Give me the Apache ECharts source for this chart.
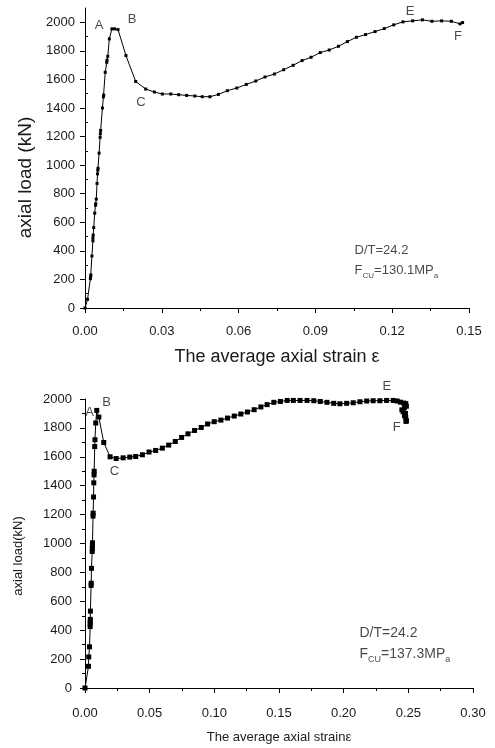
<!DOCTYPE html>
<html>
<head>
<meta charset="utf-8">
<script src="https://cdn.jsdelivr.net/npm/echarts@6/dist/echarts.min.js"></script>
<style>html,body{margin:0;padding:0;background:#fff}#c{width:495px;height:748px}</style>
</head>
<body>
<div id="c"></div>
<script>
// ---------- data: top chart (Fcu = 130.1 MPa) ----------
const strain1 = [0,0.0010,0.0021,0.0022,0.0023,0.0027,0.0031,0.0031,0.0032,0.0034,0.0038,0.0041,0.0042,0.0044,0.0047,0.0049,0.0050,0.0051,0.0055,0.0059,0.0060,0.0061,0.0068,0.0072,0.0073,0.0079,0.0085,0.0086,0.0089,0.0095,0.0105,0.0116,0.0129,0.0160,0.0198,0.0237,0.0271,0.0302,0.0335,0.0366,0.0397,0.0429,0.0458,0.0488,0.0521,0.0556,0.0593,0.0630,0.0667,0.0703,0.0740,0.0776,0.0813,0.0848,0.0883,0.0919,0.0954,0.0990,0.1025,0.1060,0.1096,0.1133,0.1169,0.1206,0.1242,0.1280,0.1318,0.1355,0.1393,0.1431,0.1465,0.1475];
const load1   = [0,61,205,220,232,364,470,490,510,563,664,720,730,762,872,939,965,978,1084,1195,1220,1243,1400,1478,1490,1650,1720,1735,1762,1884,1954,1954,1949,1767,1586,1533,1512,1498,1498,1493,1488,1484,1479,1479,1495,1521,1540,1565,1589,1617,1638,1668,1699,1732,1755,1788,1806,1832,1865,1895,1914,1935,1956,1982,2003,2010,2017,2007,2010,2007,1989,1998];

// ---------- data: bottom chart (Fcu = 137.3 MPa) ----------
const strain2 = [0,0.0027,0.0029,0.0035,0.0040,0.0040,0.0041,0.0041,0.0042,0.0047,0.0048,0.0050,0.0056,0.0057,0.0057,0.0058,0.0062,0.0063,0.0066,0.0068,0.0070,0.0071,0.0075,0.0077,0.0083,0.0091,0.0107,0.0145,0.0194,0.0241,0.0295,0.0346,0.0392,0.0444,0.0495,0.0546,0.0598,0.0647,0.0698,0.0747,0.0796,0.0847,0.0899,0.0948,0.0999,0.1051,0.1102,0.1154,0.1205,0.1256,0.1308,0.1360,0.1408,0.1460,0.1511,0.1563,0.1611,0.1663,0.1717,0.1769,0.1819,0.1871,0.1923,0.1971,0.2023,0.2074,0.2126,0.2178,0.2228,0.2280,0.2332,0.2383,0.2414,0.2440,0.2465,0.2480,0.2485,0.2470,0.2450,0.2460,0.2478,0.2470,0.2480,0.2485,0.2482];
const load2   = [0,150,215,285,425,445,460,475,532,710,725,828,945,965,985,1005,1190,1210,1322,1420,1475,1500,1671,1718,1834,1921,1875,1699,1600,1588,1593,1598,1602,1614,1633,1644,1660,1681,1706,1734,1759,1782,1803,1827,1843,1854,1868,1882,1896,1910,1926,1945,1961,1977,1983,1990,1990,1990,1990,1988,1983,1977,1970,1967,1970,1974,1981,1986,1988,1988,1990,1990,1986,1978,1972,1968,1950,1940,1925,1912,1900,1885,1870,1850,1845];

// ---------- tick values ----------
const xTicks1 = [0, 0.03, 0.06, 0.09, 0.12, 0.15];
const yTicks1 = [0,200,400,600,800,1000,1200,1400,1600,1800,2000];
const yMinor1 = [100,300,500,700,900,1100,1300,1500,1700,1900];
const xTicks2 = [0, 0.05, 0.10, 0.15, 0.20, 0.25, 0.30];
const yTicks2 = [0,200,400,600,800,1000,1200,1400,1600,1800,2000];

// ---------- point labels (data coordinates) ----------
const ptNames1 = ['A','B','C','E','F'];
const ptX1 = [0.0055, 0.0184, 0.0219, 0.1270, 0.1457];
const ptY1 = [1977, 2019, 1437, 2075, 1900];
const ptNames2 = ['A','B','C','E','F'];
const ptX2 = [0.0035, 0.0166, 0.0228, 0.2334, 0.2411];
const ptY2 = [1905, 1974, 1496, 2085, 1801];

// ---------- parameter notes ----------
const note1 = { x: 0.1055, y1: 400, y2: 252, dt: 'D/T=24.2', fcu: '130.1' };
const note2 = { x: 0.2126, y1: 379, y2: 227, dt: 'D/T=24.2', fcu: '137.3' };

const FONT = '"Liberation Sans", Arial, Helvetica, sans-serif';
const TXT = '#1a1a1a';
const zip = (a, b) => a.map((v, i) => [v, b[i]]);

function xAxisDef(grid, max, interval, ticks, name, nameSize, nameGap, labelMargin, fmt) {
  return {
    type: 'value', gridIndex: grid, min: 0, max: max, interval: interval,
    name: name, nameLocation: 'middle', nameGap: nameGap,
    nameTextStyle: { fontFamily: FONT, fontSize: nameSize, color: TXT },
    axisLine: { show: true, onZero: false, lineStyle: { color: '#000', width: 1 } },
    axisTick: { show: true, inside: false, length: 5, lineStyle: { color: '#000' } },
    minorTick: { show: true, splitNumber: 2, length: 3, lineStyle: { color: '#000' } },
    axisLabel: { margin: labelMargin, fontFamily: FONT, fontSize: 13, color: TXT, formatter: fmt, customValues: ticks },
    splitLine: { show: false }, minorSplitLine: { show: false }
  };
}

function noteSeries(xi, yi, nt, fs, ss) {
  return {
    type: 'scatter', xAxisIndex: xi, yAxisIndex: yi, clip: false, silent: true,
    symbolSize: 1, itemStyle: { color: 'rgba(0,0,0,0)' },
    data: [
      { value: [nt.x, nt.y1], label: { formatter: nt.dt } },
      { value: [nt.x, nt.y2], label: { formatter: '{n|F}{s|CU}{n|=' + nt.fcu + 'MP}{s|a}' } }
    ],
    label: {
      show: true, position: [0, 0], align: 'left', verticalAlign: 'middle',
      fontFamily: FONT, fontSize: fs, color: TXT,
      rich: {
        n: { fontFamily: FONT, fontSize: fs, color: TXT, lineHeight: fs + 2, verticalAlign: 'top' },
        s: { fontFamily: FONT, fontSize: ss, color: TXT, lineHeight: fs + 2, verticalAlign: 'top', padding: [8, 0, 0, 0] }
      }
    }
  };
}

const yFmt = v => String(v);

const option = {
  animation: false,
  backgroundColor: '#fff',
  grid: [
    { left: 85, right: 26, top: 8, bottom: 440 },
    { left: 85, right: 22, top: 399, bottom: 60 }
  ],
  xAxis: [
    xAxisDef(0, 0.15, 0.03, xTicks1, 'The average axial strain ε', 18, 40, 17, v => v.toFixed(2)),
    xAxisDef(1, 0.30, 0.05, xTicks2, 'The average axial strainε', 13, 43, 19, v => v.toFixed(2))
  ],
  yAxis: [
    {
      type: 'value', gridIndex: 0, min: 0, max: 2100, interval: 200,
      name: 'axial load (kN)', nameLocation: 'middle', nameGap: 50,
      nameTextStyle: { fontFamily: FONT, fontSize: 19, color: TXT, padding: [0, 39, 0, 0] },
      axisLine: { show: true, onZero: false, lineStyle: { color: '#000', width: 1 } },
      axisTick: { show: true, inside: false, length: 5, customValues: yTicks1, lineStyle: { color: '#000' } },
      axisLabel: { margin: 10, fontFamily: FONT, fontSize: 13, color: TXT, customValues: yTicks1, formatter: yFmt },
      splitLine: { show: false }
    },
    {
      type: 'value', gridIndex: 0, min: 0, max: 2100, interval: 100,
      axisLine: { show: false },
      axisTick: { show: true, inside: false, length: 3, customValues: yMinor1, lineStyle: { color: '#000' } },
      axisLabel: { show: false },
      splitLine: { show: false }
    },
    {
      type: 'value', gridIndex: 1, min: 0, max: 2000, interval: 200,
      name: 'axial load(kN)', nameLocation: 'middle', nameGap: 60,
      nameTextStyle: { fontFamily: FONT, fontSize: 13, color: TXT, padding: [0, 25, 0, 0] },
      axisLine: { show: true, onZero: false, lineStyle: { color: '#000', width: 1 } },
      axisTick: { show: true, inside: false, length: 5, lineStyle: { color: '#000' } },
      minorTick: { show: true, splitNumber: 2, length: 3, lineStyle: { color: '#000' } },
      axisLabel: { margin: 13, fontFamily: FONT, fontSize: 13, color: TXT, customValues: yTicks2, formatter: yFmt },
      splitLine: { show: false }, minorSplitLine: { show: false }
    }
  ],
  series: [
    {
      type: 'line', xAxisIndex: 0, yAxisIndex: 0, data: zip(strain1, load1),
      symbol: 'rect', symbolSize: 3, showAllSymbol: true,
      lineStyle: { color: '#000', width: 1 }, itemStyle: { color: '#000' }, silent: true
    },
    {
      type: 'line', xAxisIndex: 1, yAxisIndex: 2, data: zip(strain2, load2),
      symbol: 'rect', symbolSize: 5, showAllSymbol: true,
      lineStyle: { color: '#000', width: 1 }, itemStyle: { color: '#000' }, silent: true
    },
    {
      type: 'scatter', xAxisIndex: 0, yAxisIndex: 0, clip: false, silent: true,
      symbolSize: 1, itemStyle: { color: 'rgba(0,0,0,0)' },
      data: ptNames1.map((n, i) => ({ name: n, value: [ptX1[i], ptY1[i]] })),
      label: { show: true, position: 'inside', formatter: p => p.name, fontFamily: FONT, fontSize: 13, color: TXT }
    },
    {
      type: 'scatter', xAxisIndex: 1, yAxisIndex: 2, clip: false, silent: true,
      symbolSize: 1, itemStyle: { color: 'rgba(0,0,0,0)' },
      data: ptNames2.map((n, i) => ({ name: n, value: [ptX2[i], ptY2[i]] })),
      label: { show: true, position: 'inside', formatter: p => p.name, fontFamily: FONT, fontSize: 13, color: TXT }
    },
    noteSeries(0, 0, note1, 13, 8),
    noteSeries(1, 2, note2, 14, 9)
  ]
};

const chart = echarts.init(document.getElementById('c'), null, { renderer: 'canvas' });
chart.setOption(option);
</script>
</body>
</html>
